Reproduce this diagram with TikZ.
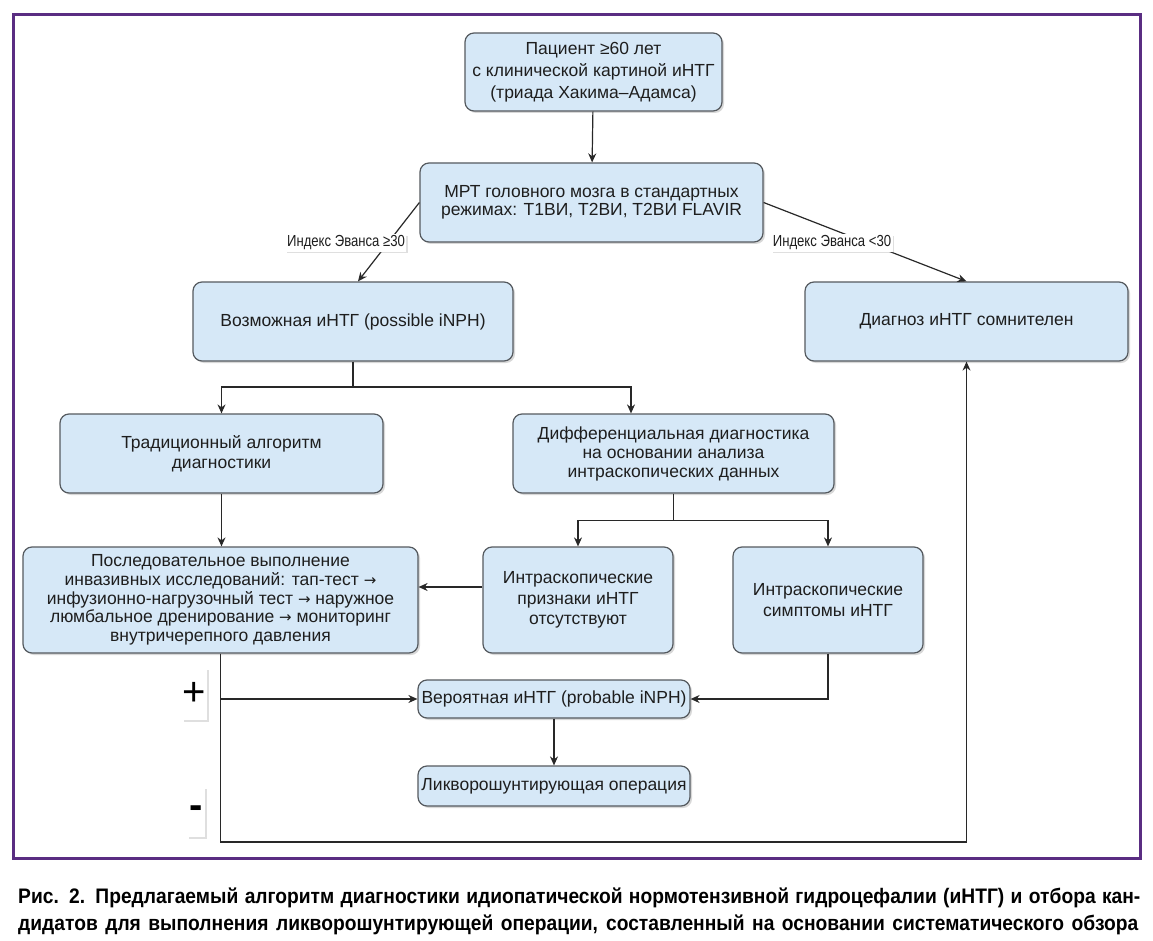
\documentclass[tikz,border=0pt]{standalone}
\usepackage{fontspec}
\setmainfont{Liberation Sans}
\newfontfamily\narrowfont[FakeStretch=0.82]{Liberation Sans}
\newfontfamily\capfont[FakeStretch=0.915]{Liberation Sans}
\newfontfamily\arrfont{DejaVu Sans}
\usetikzlibrary{shadows,arrows.meta}
\definecolor{boxfill}{RGB}{214,232,247}
\definecolor{boxline}{RGB}{85,90,95}
\definecolor{framepurple}{RGB}{90,45,130}
\definecolor{linecol}{RGB}{40,40,40}
\definecolor{txtcol}{RGB}{30,30,30}
\newcommand{\rarr}{{\arrfont\fontsize{15}{15}\selectfont →}}
\begin{document}
\begin{tikzpicture}[x=1pt,y=-1pt,
  flowbox/.style={draw=boxline, line width=1.2pt, fill=boxfill, rounded corners=9pt,
    align=center, inner sep=2pt, text=txtcol, font=\fontsize{17.5}{20}\selectfont,
    drop shadow={shadow xshift=2pt,shadow yshift=-2pt,opacity=0.3}},
  conn/.style={draw=linecol, line width=1.2pt},
  arr/.style={conn, -{Stealth[length=9pt,width=8pt]}},
  elabel/.style={fill=white, text=txtcol, font=\narrowfont\fontsize{16}{18}\selectfont,
    inner sep=1.5pt, drop shadow={shadow xshift=1.5pt,shadow yshift=-1.5pt,opacity=0.25}},
  signbox/.style={fill=white, text=black, inner sep=0pt,
    drop shadow={shadow xshift=2pt,shadow yshift=-2pt,opacity=0.25}},
]
\useasboundingbox (0,0) rectangle (1153,941);
\fill[white] (0,0) rectangle (1153,941);
\draw[framepurple, line width=3pt] (13.5,15) rectangle (1140,858);

% nodes
\node[flowbox, minimum width=257pt, minimum height=78pt, font=\fontsize{17.5}{22}\selectfont] (top) at (593.5,72)
  {Пациент ≥60 лет\\с клинической картиной иНТГ\\(триада Хакима–Адамса)};
\node[flowbox, minimum width=343pt, minimum height=79pt, font=\fontsize{17.5}{18.5}\selectfont] (mri) at (591.5,202.5)
  {МРТ головного мозга в стандартных\\режимах: Т1ВИ, Т2ВИ, Т2ВИ FLAVIR};
\node[flowbox, minimum width=320pt, minimum height=79pt] (poss) at (353,321.5)
  {Возможная иНТГ (possible iNPH)};
\node[flowbox, minimum width=323pt, minimum height=79pt] (doubt) at (966.5,321.5)
  {Диагноз иНТГ сомнителен};
\node[flowbox, minimum width=323pt, minimum height=79pt, font=\fontsize{17.5}{20}\selectfont] (trad) at (221.5,453.5)
  {Традиционный алгоритм\\диагностики};
\node[flowbox, minimum width=321pt, minimum height=79pt, font=\fontsize{17.5}{19}\selectfont] (diff) at (673.5,453.5)
  {Дифференциальная диагностика\\на основании анализа\\интраскопических данных};
\node[flowbox, minimum width=395pt, minimum height=106pt, font=\fontsize{17.5}{18.7}\selectfont] (seq) at (220.5,600)
  {Последовательное выполнение\\инвазивных исследований: тап-тест \rarr\\инфузионно-нагрузочный тест \rarr{} наружное\\люмбальное дренирование \rarr{} мониторинг\\внутричерепного давления};
\node[flowbox, minimum width=190pt, minimum height=106pt, font=\fontsize{17.5}{20.5}\selectfont] (absent) at (578,600)
  {Интраскопические\\признаки иНТГ\\отсутствуют};
\node[flowbox, minimum width=190pt, minimum height=106pt, font=\fontsize{17.5}{20.5}\selectfont] (symp) at (828,600)
  {Интраскопические\\симптомы иНТГ};
\node[flowbox, minimum width=272pt, minimum height=38pt] (prob) at (554,699)
  {Вероятная иНТГ (probable iNPH)};
\node[flowbox, minimum width=272pt, minimum height=40pt] (shunt) at (554,786)
  {Ликворошунтирующая операция};

% connectors
\draw[arr] (top) -- (mri);
\draw[arr] (mri.west) -- ([xshift=5pt]poss.north);
\draw[arr] (mri.east) -- (doubt.north);
\node[elabel] (lab1) at (346,243) {Индекс Эванса ≥30};
\node[elabel] (lab2) at (832,243) {Индекс Эванса <30};

\coordinate (b1) at (353,387);
\draw[conn] (poss.south) -- (b1);
\draw[arr] (b1) -| (trad.north);
\draw[arr] (b1) -| ([xshift=-42.5pt]diff.north);

\draw[arr] (trad.south) -- (trad.south |- seq.north);
\draw[arr] (diff.south) -- ++(0,27) -| (absent.north);
\draw[arr] (diff.south) -- ++(0,27) -| (symp.north);
\draw[arr] ([yshift=13pt]absent.west) -- ([yshift=13pt]absent.west -| seq.east);
\draw[arr] (symp.south) |- (prob.east);
\draw[arr] (prob) -- (shunt);

\coordinate (c1) at (222,842);
\draw[arr] (seq.south) |- (prob.west);
\draw[arr] (seq.south) -- (seq.south |- c1) -| (doubt.south);

\node[signbox, minimum width=25pt, minimum height=52pt, font=\fontsize{40}{40}\selectfont] (plus) at (194,694) {+};
\node[signbox, minimum width=18pt, minimum height=50pt, font=\bfseries\fontsize{40}{40}\selectfont] (minus) at (196,812) {-};

% caption
\node[anchor=base west, inner sep=0pt] (cap1) at (18,903)
  {\makebox[1122pt][s]{\capfont\bfseries\fontsize{21}{24}\selectfont Рис. 2. Предлагаемый алгоритм диагностики идиопатической нормотензивной гидроцефалии (иНТГ) и отбора кан-}};
\node[anchor=base west, inner sep=0pt] (cap2) at (18,930)
  {\makebox[1120pt][s]{\capfont\bfseries\fontsize{21}{24}\selectfont дидатов для выполнения ликворошунтирующей операции, составленный на основании систематического обзора}};
\end{tikzpicture}
\end{document}
